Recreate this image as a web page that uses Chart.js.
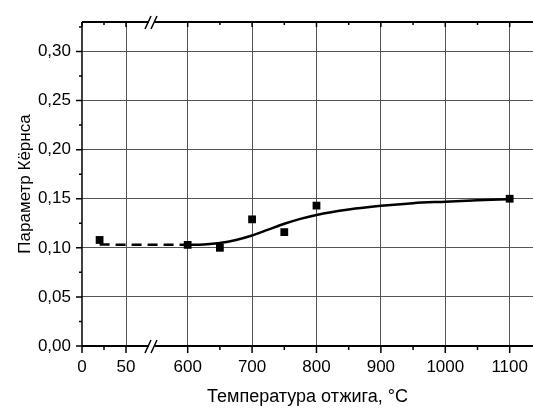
<!DOCTYPE html>
<html>
<head>
<meta charset="utf-8">
<script src="https://cdn.jsdelivr.net/npm/chart.js@4/dist/chart.umd.min.js"></script>
<style>
  html, body { margin: 0; padding: 0; background: #fff; }
  #wrap { width: 533px; height: 412px; }
</style>
</head>
<body>
<div id="wrap"><canvas id="kernsChart"></canvas></div>
<script>
// Measured points (annealing temperature, Kerns parameter)
const pointTemps = [20, 600, 650, 700, 750, 800, 1100];
const pointValues = [0.108, 0.103, 0.100, 0.129, 0.116, 0.143, 0.150];

// Dashed guide line before the break
const dashTemps = [20, 600];
const dashValues = [0.1033, 0.103];

// Fitted curve
const fitTemps = [600, 625, 650, 675, 700, 725, 750, 775, 800, 850, 900, 950, 1000, 1050, 1100];
const fitValues = [0.103, 0.1035, 0.105, 0.108, 0.1125, 0.1185, 0.1245, 0.1295, 0.1335, 0.139, 0.1428, 0.1455, 0.147, 0.1485, 0.1495];

// Axis ticks
const xMajorTicks = [0, 50, 600, 700, 800, 900, 1000, 1100];
const xMinorTicks = [25, 650, 750, 850, 950, 1050];
const yMajorTicks = [0, 0.05, 0.10, 0.15, 0.20, 0.25, 0.30];
const yMinorTicks = [0.025, 0.075, 0.125, 0.175, 0.225, 0.275, 0.325];

// Broken x axis: 0..50 is stretched, then jump to 600
const LEFT_K = 1.3665;       // axis units per degree below the break
const U600 = 164.1;          // axis position of 600 degrees
const U_BREAK = 108.7;       // where the // marks sit
const U_MAX = 700.3;

function toU(t) {
  return t < 300 ? t * LEFT_K : t - 600 + U600;
}

function pts(xs, ys) {
  return xs.map((t, i) => ({ x: toU(t), y: ys[i] }));
}

// axis lines, ticks on all sides and the break marks
const axisPlugin = {
  id: 'axisPlugin',
  afterDraw(chart) {
    const ctx = chart.ctx;
    const a = chart.chartArea;
    const xs = chart.scales.x;
    const ys = chart.scales.y;
    ctx.save();
    ctx.strokeStyle = '#000';

    // frame lines
    ctx.lineWidth = 2;
    ctx.beginPath();
    ctx.moveTo(a.left, a.bottom); ctx.lineTo(a.right, a.bottom);
    ctx.moveTo(a.left, a.top); ctx.lineTo(a.right, a.top);
    ctx.stroke();
    ctx.lineWidth = 1.5;
    ctx.beginPath();
    ctx.moveTo(a.left, a.top); ctx.lineTo(a.left, a.bottom);
    ctx.stroke();

    // x ticks: outward at bottom, inward at top
    ctx.lineWidth = 1.5;
    ctx.beginPath();
    xMajorTicks.forEach(t => {
      const px = xs.getPixelForValue(toU(t));
      ctx.moveTo(px, a.bottom); ctx.lineTo(px, a.bottom + 7);
      ctx.moveTo(px, a.top); ctx.lineTo(px, a.top + 5);
    });
    xMinorTicks.forEach(t => {
      const px = xs.getPixelForValue(toU(t));
      ctx.moveTo(px, a.bottom); ctx.lineTo(px, a.bottom + 4);
      ctx.moveTo(px, a.top); ctx.lineTo(px, a.top + 3);
    });
    // y ticks outward
    yMajorTicks.forEach(v => {
      const py = ys.getPixelForValue(v);
      ctx.moveTo(a.left, py); ctx.lineTo(a.left - 6, py);
    });
    yMinorTicks.forEach(v => {
      const py = ys.getPixelForValue(v);
      ctx.moveTo(a.left, py); ctx.lineTo(a.left - 3, py);
    });
    ctx.stroke();

    // break marks
    const bx = xs.getPixelForValue(U_BREAK);
    [a.top, a.bottom].forEach(y0 => {
      ctx.fillStyle = '#fff';
      ctx.fillRect(bx - 3, y0 - 2, 6, 4);
      ctx.lineWidth = 1.5;
      ctx.beginPath();
      ctx.moveTo(bx - 7, y0 + 7); ctx.lineTo(bx - 1, y0 - 6);
      ctx.moveTo(bx - 1, y0 + 7); ctx.lineTo(bx + 5, y0 - 6);
      ctx.stroke();
    });
    ctx.restore();
  }
};

const fontFamily = '"Liberation Sans", Arial, sans-serif';
const tickFont = { family: fontFamily, size: 17 };

new Chart(document.getElementById('kernsChart'), {
  type: 'scatter',
  data: {
    datasets: [
      {
        label: 'dash',
        data: pts(dashTemps, dashValues),
        showLine: true,
        borderColor: '#000',
        borderWidth: 2.5,
        borderDash: [10, 6],
        pointRadius: 0
      },
      {
        label: 'fit',
        data: pts(fitTemps, fitValues),
        showLine: true,
        borderColor: '#000',
        borderWidth: 2.5,
        cubicInterpolationMode: 'monotone',
        pointRadius: 0
      },
      {
        label: 'points',
        data: pts(pointTemps, pointValues),
        pointStyle: 'rect',
        pointRadius: 5.5,
        backgroundColor: '#000',
        borderColor: '#000',
        borderWidth: 0
      }
    ]
  },
  options: {
    responsive: true,
    maintainAspectRatio: false,
    animation: false,
    // the plot runs off the right edge in the original
    layout: { autoPadding: false, padding: { top: 22, right: 0, left: 0, bottom: 0 } },
    plugins: {
      legend: { display: false },
      tooltip: { enabled: false }
    },
    scales: {
      x: {
        type: 'linear',
        min: 0,
        max: U_MAX,
        afterBuildTicks: s => { s.ticks = xMajorTicks.map(t => ({ value: toU(t) })); },
        afterFit: s => { s.height = 66; s.paddingLeft = 0; s.paddingRight = 0; },
        border: { display: false },
        grid: {
          drawTicks: false,
          color: c => (c.tick && c.tick.value === 0) ? 'rgba(0,0,0,0)' : '#555',
          lineWidth: 1
        },
        ticks: {
          autoSkip: false,
          maxRotation: 0,
          padding: 11,
          color: '#000',
          font: tickFont,
          callback: (v, i) => String(xMajorTicks[i])
        },
        title: {
          display: true,
          text: 'Температура отжига, °C',
          color: '#000',
          font: { family: fontFamily, size: 18 },
          padding: { top: 0, bottom: 4 }
        }
      },
      y: {
        min: 0,
        max: 0.33,
        afterBuildTicks: s => { s.ticks = yMajorTicks.map(v => ({ value: v })); },
        afterFit: s => { s.width = 82; },
        border: { display: false },
        grid: {
          drawTicks: false,
          color: c => (c.tick && c.tick.value === 0) ? 'rgba(0,0,0,0)' : '#555',
          lineWidth: 1
        },
        ticks: {
          padding: 11,
          color: '#000',
          font: tickFont,
          callback: v => v.toFixed(2).replace('.', ',')
        },
        title: {
          display: true,
          text: 'Параметр Кёрнса',
          color: '#000',
          font: { family: fontFamily, size: 17 },
          padding: { top: 15, bottom: 0 }
        }
      }
    }
  },
  plugins: [axisPlugin]
});
</script>
</body>
</html>
